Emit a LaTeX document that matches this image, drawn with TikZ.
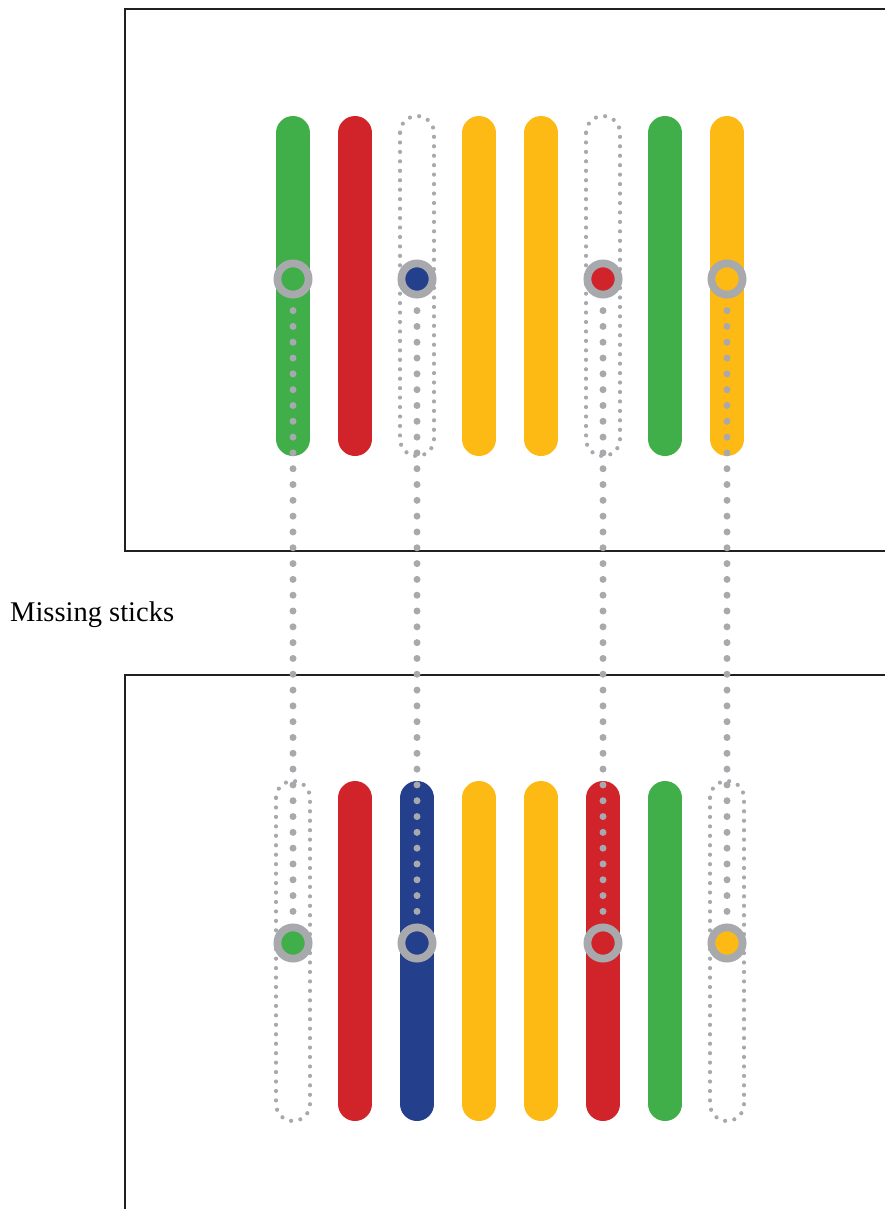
\documentclass[tikz,border=0pt]{standalone}
\usepackage{fontspec}
\setmainfont{Liberation Serif}
\definecolor{sgreen}{HTML}{40AE49}
\definecolor{sred}{HTML}{D1232A}
\definecolor{syellow}{HTML}{FDBA14}
\definecolor{sblue}{HTML}{243F8B}
\definecolor{greyC}{HTML}{A7A9AC}
\definecolor{frameC}{HTML}{231F20}
\begin{document}
\begin{tikzpicture}[x=1pt,y=-1pt,
  frame/.style={draw=frameC, line width=1.5pt},
  stick/.style={line width=34pt, line cap=round},
  ghost/.style={draw=greyC, line width=4.2pt, line cap=round, dash pattern=on 0pt off 9.45pt, rounded corners=17pt},
  link/.style={draw=greyC, line width=7pt, line cap=round, dash pattern=on 0pt off 15.81pt},
  ring/.style={circle, draw=greyC, line width=7.8pt, minimum size=31.2pt, inner sep=0pt}]
\useasboundingbox (0,0) rectangle (884,1209);
% panels
\draw[frame] (885,9) -- (125,9) -- (125,551) -- (885,551);
\draw[frame] (885,675) -- (125,675) -- (125,1210);
% label
\node[anchor=base west, font=\fontsize{28.5}{32}\selectfont, inner sep=0pt] (lbl) at (10,621) {Missing sticks};
% top sticks
\foreach \i/\c in {1/sgreen,2/sred,4/syellow,5/syellow,7/sgreen,8/syellow}{
  \pgfmathsetmacro{\xx}{293+62*(\i-1)}
  \draw[stick,\c] (\xx,133) -- (\xx,439);
}
\foreach \i in {3,6}{
  \pgfmathsetmacro{\xx}{293+62*(\i-1)}
  \draw[ghost] (\xx-17,116) rectangle (\xx+17,456);
}
% bottom sticks
\foreach \i/\c in {2/sred,3/sblue,4/syellow,5/syellow,6/sred,7/sgreen}{
  \pgfmathsetmacro{\xx}{293+62*(\i-1)}
  \draw[stick,\c] (\xx,798) -- (\xx,1104);
}
\foreach \i in {1,8}{
  \pgfmathsetmacro{\xx}{293+62*(\i-1)}
  \draw[ghost] (\xx-17,781) rectangle (\xx+17,1121);
}
% positions
\coordinate (t1) at (293,279); \coordinate (b1) at (293,943);
\coordinate (t3) at (417,279); \coordinate (b3) at (417,943);
\coordinate (t6) at (603,279); \coordinate (b6) at (603,943);
\coordinate (t8) at (727,279); \coordinate (b8) at (727,943);
% links
\draw[link] (t1) -- (b1);
\draw[link] (t3) -- (b3);
\draw[link] (t6) -- (b6);
\draw[link] (t8) -- (b8);
% rings
\node[ring, fill=sgreen] (rt1) at (t1) {};
\node[ring, fill=sblue] (rt3) at (t3) {};
\node[ring, fill=sred] (rt6) at (t6) {};
\node[ring, fill=syellow] (rt8) at (t8) {};
\node[ring, fill=sgreen] (rb1) at (b1) {};
\node[ring, fill=sblue] (rb3) at (b3) {};
\node[ring, fill=sred] (rb6) at (b6) {};
\node[ring, fill=syellow] (rb8) at (b8) {};
\end{tikzpicture}
\end{document}
